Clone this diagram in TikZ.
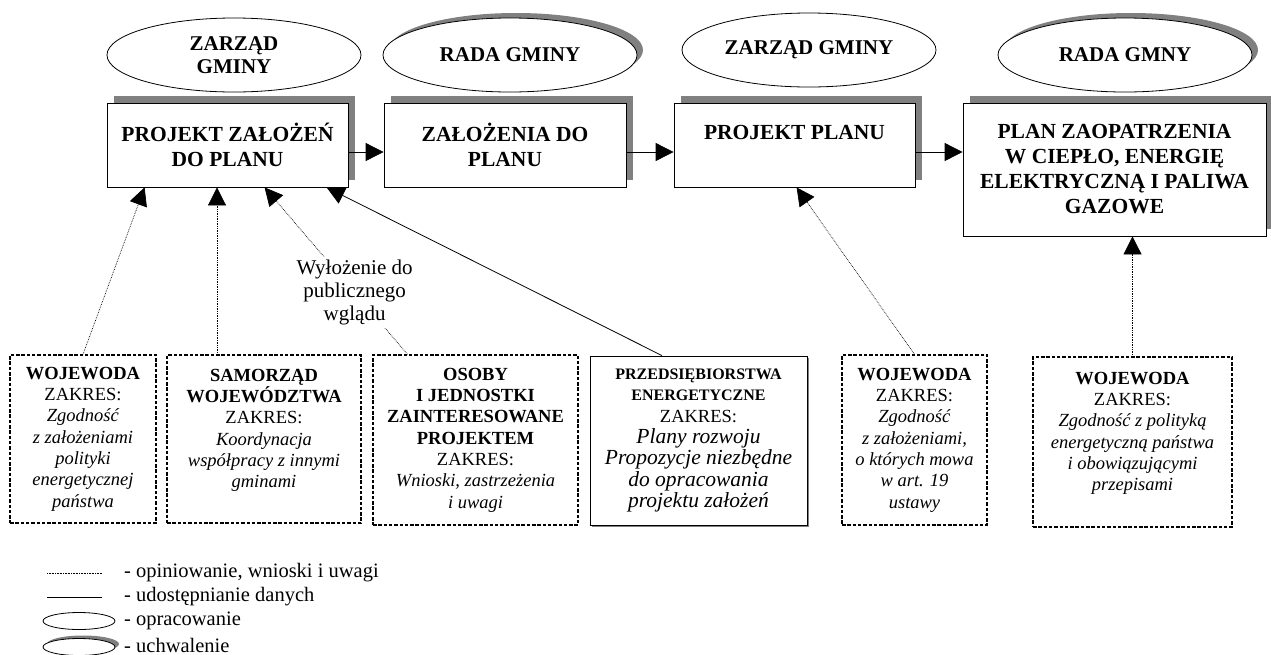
\documentclass[tikz,border=0pt]{standalone}
\usepackage{fontspec}
\setmainfont{Liberation Serif}
\usetikzlibrary{shapes.geometric,arrows.meta,shadows}

\newcommand{\firma}[1]{{\fontsize{16}{21}\selectfont\bfseries #1}}
\newcommand{\plany}[1]{{\fontsize{21.5}{22}\selectfont\itshape #1}}

\tikzset{
  etap/.style={draw, fill=white, line width=0.8pt, minimum height=84pt, inner sep=2pt, align=center,
    font=\fontsize{21.5}{25}\selectfont\bfseries,
    drop shadow={shadow xshift=7pt, shadow yshift=7pt, fill=black!50, opacity=1}},
  organ/.style={ellipse, draw, fill=white, line width=0.8pt, minimum width=254pt, minimum height=74pt,
    inner sep=0pt, align=center, font=\fontsize{21}{23}\selectfont\bfseries},
  uchwala/.style={organ, drop shadow={shadow xshift=6pt, shadow yshift=5pt, fill=black!50, opacity=1}},
  opinia/.style={draw, line width=1.4pt, dash pattern=on 3.5pt off 1.8pt, minimum height=168pt,
    align=center, inner sep=2pt, font=\fontsize{18.5}{21.3}\selectfont},
  dane/.style={draw, fill=white, line width=0.8pt, minimum height=169pt, align=center, inner sep=2pt,
    font=\fontsize{18.5}{21.3}\selectfont,
    drop shadow={shadow xshift=1.5pt, shadow yshift=-1.5pt, fill=black!50, opacity=1}},
  kropki/.style={densely dotted, line width=0.7pt, -{Triangle[length=18pt,width=18pt]}},
  ciagla/.style={line width=0.8pt, -{Triangle[length=18pt,width=18pt]}},
  znak/.style={ellipse, draw, fill=white, line width=0.8pt, minimum width=72pt, minimum height=17pt, inner sep=0pt},
  opis/.style={anchor=west, inner sep=0pt, font=\fontsize{20.5}{23}\selectfont}
}

\begin{document}
\begin{tikzpicture}[x=1pt, y=-1pt]
    \useasboundingbox (0,0) rectangle (1271,654);

    \node[organ] (zarzad1) at (234,55) {ZARZĄD\\GMINY};
    \node[uchwala] (rada1) at (510,55) {RADA GMINY};
    \node[organ] (zarzad2) at (809,50) {ZARZĄD GMINY};
    \node[uchwala] (rada2) at (1125,55) {RADA GMNY};

    \node[etap, minimum width=241pt] (projzal) at (227.5,145) {PROJEKT ZAŁOŻEŃ\\DO PLANU};
    \node[etap, minimum width=242pt] (zal) at (505,145) {ZAŁOŻENIA DO\\PLANU};
    \node[etap, minimum width=241pt] (projplan) at (794.5,145) {PROJEKT PLANU\\\mbox{}};
    \node[etap, minimum width=303pt, minimum height=133pt] (plan) at (1114.5,169.5)
        {PLAN ZAOPATRZENIA\\W CIEPŁO, ENERGIĘ\\ELEKTRYCZNĄ I PALIWA\\GAZOWE};

    \draw[ciagla] ([yshift=-7pt]projzal.east) -- ([yshift=-7pt]zal.west);
    \draw[ciagla] ([yshift=-7pt]zal.east) -- ([yshift=-7pt]projplan.west);
    \draw[ciagla] ([yshift=-7pt]projplan.east) -- ([yshift=-7pt]projplan.east -| plan.west);

    \node[opinia, minimum width=146pt] (woj1) at (83,439)
        {\textbf{WOJEWODA}\\ZAKRES:\\\textit{Zgodność}\\\textit{z założeniami}\\\textit{polityki}\\\textit{energetycznej}\\\textit{państwa}};
    \node[opinia, minimum width=194pt] (samorzad) at (264,439)
        {\textbf{SAMORZĄD}\\\textbf{WOJEWÓDZTWA}\\ZAKRES:\\\textit{Koordynacja}\\\textit{współpracy z innymi}\\\textit{gminami}\\\mbox{}};
    \node[opinia, minimum width=205pt, minimum height=170pt] (osoby) at (475.5,440)
        {\textbf{OSOBY}\\\textbf{I JEDNOSTKI}\\\textbf{ZAINTERESOWANE}\\\textbf{PROJEKTEM}\\ZAKRES:\\\textit{Wnioski, zastrzeżenia}\\\textit{i uwagi}};
    \node[dane, minimum width=217pt] (przeds) at (698.5,440.5)
        {\firma{PRZEDSIĘBIORSTWA}\\\firma{ENERGETYCZNE}\\ZAKRES:\\\plany{Plany rozwoju}\\\plany{Propozycje niezbędne}\\\plany{do opracowania}\\\plany{projektu założeń}};
    \node[opinia, minimum width=145pt, minimum height=170pt] (woj2) at (914.5,440)
        {\textbf{WOJEWODA}\\ZAKRES:\\\textit{Zgodność}\\\textit{z założeniami,}\\\textit{o których mowa}\\\textit{w art. 19}\\\textit{ustawy}};
    \node[opinia, minimum width=199pt, minimum height=170pt] (woj3) at (1132.5,442)
        {\textbf{WOJEWODA}\\ZAKRES:\\\textit{Zgodność z polityką}\\\textit{energetyczną państwa}\\\textit{i obowiązującymi}\\\textit{przepisami}\\\mbox{}};

    \draw[kropki] (woj1.north) -- ([xshift=38pt]projzal.south west);
    \draw[kropki] ([xshift=-47pt]samorzad.north) -- ([xshift=-47pt]samorzad.north |- projzal.south);
    \draw[kropki] ([xshift=-68pt]osoby.north) -- node[pos=0.37, fill=white, inner sep=3pt, align=center,
        font=\fontsize{21}{23}\selectfont] (wylozenie) {Wyłożenie do\\publicznego\\wglądu}
        ([xshift=158pt]projzal.south west);
    \draw[ciagla] ([xshift=-36.5pt]przeds.north) -- ([xshift=220pt]projzal.south west);
    \draw[kropki] (woj2.north) -- ([xshift=123pt]projplan.south west);
    \draw[kropki] (woj3.north) -- (woj3.north |- plan.south);

    \draw[densely dotted, line width=0.6pt] (47,573) -- (102,573);
    \draw[line width=0.8pt] (47,597) -- (102,597);
    \node[znak] (lopr) at (79,621) {};
    \node[znak, drop shadow={shadow xshift=4pt, shadow yshift=3pt, fill=black!50, opacity=1}] (luchw) at (79,647) {};
    \node[opis] (l1) at (124,573) {- opiniowanie, wnioski i uwagi};
    \node[opis] (l2) at (124,597) {- udostępnianie danych};
    \node[opis] (l3) at (124,621) {- opracowanie};
    \node[opis] (l4) at (124,645) {- uchwalenie};
\end{tikzpicture}
\end{document}
